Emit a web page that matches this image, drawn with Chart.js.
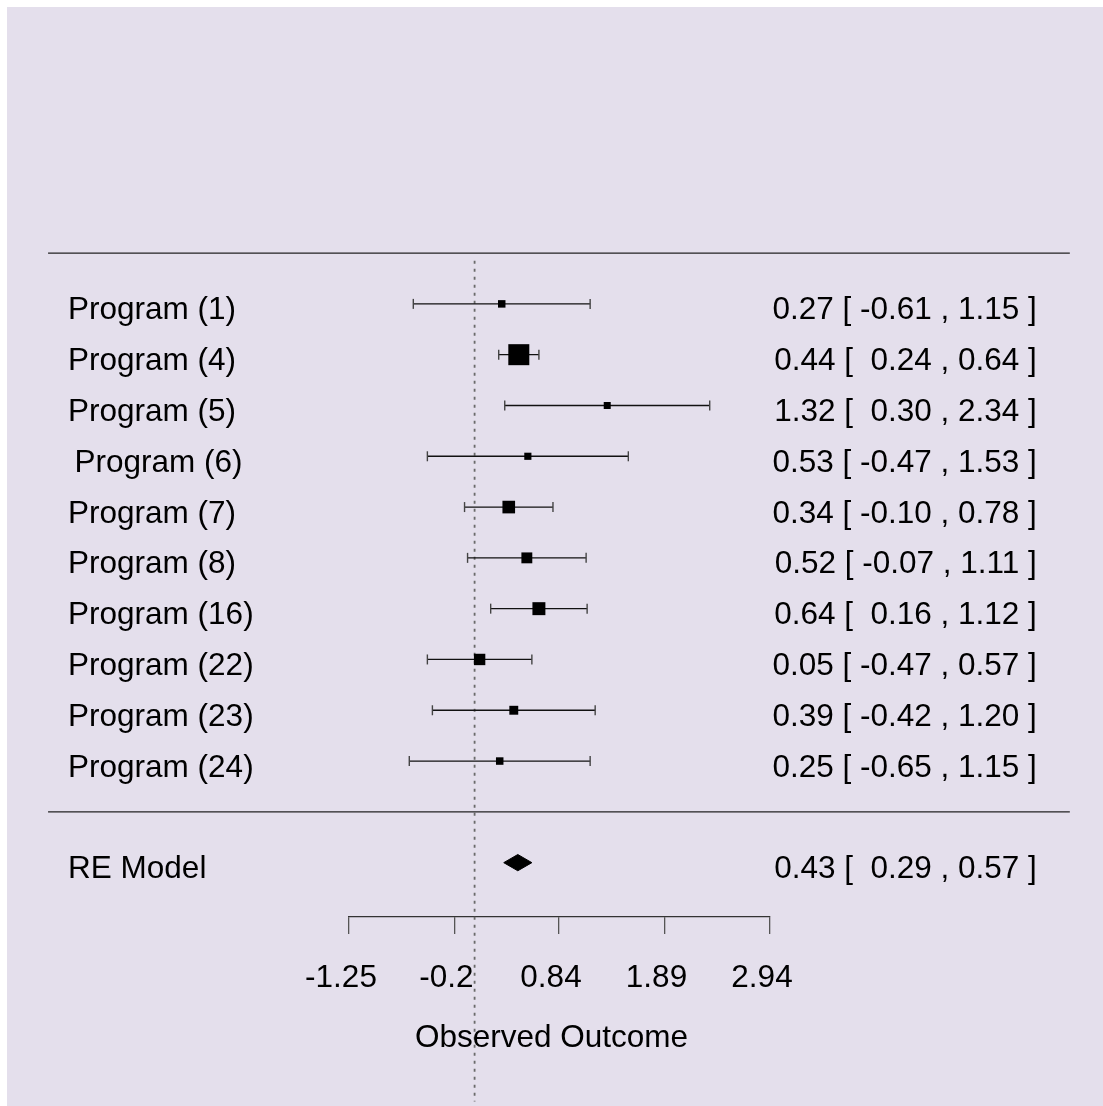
<!DOCTYPE html>
<html>
<head>
<meta charset="utf-8">
<script src="https://cdn.jsdelivr.net/npm/chart.js@4.4.1/dist/chart.umd.min.js"></script>
<style>
  html, body { margin: 0; padding: 0; background: #e4dfec; overflow: hidden; }
  canvas { display: block; }
</style>
</head>
<body>
<canvas id="forestChart" width="1103" height="1106"></canvas>
<script>
// forest plot data
const studies   = ['Program (1)', 'Program (4)', 'Program (5)', '\u2009Program (6)', 'Program (7)',
                   'Program (8)', 'Program (16)', 'Program (22)', 'Program (23)', 'Program (24)'];
const estimates = [0.27, 0.44, 1.32, 0.53, 0.34, 0.52, 0.64, 0.05, 0.39, 0.25];
const ciLower   = [-0.61, 0.24, 0.30, -0.47, -0.10, -0.07, 0.16, -0.47, -0.42, -0.65];
const ciUpper   = [1.15, 0.64, 2.34, 1.53, 0.78, 1.11, 1.12, 0.57, 1.20, 1.15];
const weights   = [5.2, 21.5, 4.6, 4.8, 11.4, 9.3, 11.8, 9.9, 6.9, 5.2];

const reLabel = 'RE Model';
const reEstimate = 0.43;
const reLower = 0.29;
const reUpper = 0.57;

const tickValues = [-1.25, -0.2, 0.84, 1.89, 2.94];
const tickLabels = ['-1.25', '-0.2', '0.84', '1.89', '2.94'];
const axisTitle = 'Observed Outcome';

// plot limits
const xlim = [-4.245, 5.924];
const k = studies.length;
const rows = studies.map((s, i) => k - i);

const FONT = "'Liberation Sans', Arial, sans-serif";
const FONT_SIZE = 31.5;

const fmt = v => v.toFixed(2);
const fmtLow = v => (v < 0 ? '' : ' ') + fmt(v);
const annot = (est, lo, hi) => `${fmt(est)} [ ${fmtLow(lo)} , ${fmt(hi)} ]`;

// square side grows linearly with weight (0.5x .. 1.5x of base size)
const wMin = Math.min(...weights), wMax = Math.max(...weights);
const boxSide = weights.map(w => 7 + 14 * (w - wMin) / (wMax - wMin));

Chart.defaults.font.family = FONT;
Chart.defaults.color = '#000';

const whiskerSets = rows.map((r, i) => ({
    data: [{x: ciLower[i], y: r}, {x: ciUpper[i], y: r}],
    showLine: true,
    borderColor: '#111',
    borderWidth: 1.3,
    pointStyle: 'line',
    pointRotation: 90,
    pointRadius: 5,
    pointBorderColor: '#444',
    pointBorderWidth: 1.4,
    clip: false,
    order: 3
}));

const dH = 0.16;
const forestText = {
    id: 'forestText',
    beforeDraw(chart) {
        const {ctx, width, height} = chart;
        ctx.save();
        ctx.fillStyle = '#ffffff';
        ctx.fillRect(0, 0, width, height);
        ctx.fillStyle = '#e4dfec';
        ctx.fillRect(7, 7, width - 7, height - 7);
        ctx.restore();
    },
    afterDraw(chart) {
        const {ctx, scales: {x, y}} = chart;
        const left = x.getPixelForValue(xlim[0]) + 20;
        const right = x.getPixelForValue(xlim[1]) - 33;
        ctx.save();
        ctx.fillStyle = '#000';
        ctx.font = `${FONT_SIZE}px ${FONT}`;
        ctx.textBaseline = 'alphabetic';
        rows.forEach((r, i) => {
            const py = y.getPixelForValue(r) + 15.5;
            ctx.textAlign = 'left';
            ctx.fillText(studies[i], left, py);
            ctx.textAlign = 'right';
            ctx.fillText(annot(estimates[i], ciLower[i], ciUpper[i]), right, py);
        });
        const ry = y.getPixelForValue(-1) + 15.5;
        ctx.textAlign = 'left';
        ctx.fillText(reLabel, left, ry);
        ctx.textAlign = 'right';
        ctx.fillText(annot(reEstimate, reLower, reUpper), right, ry);
        ctx.textAlign = 'center';
        ctx.fillText(axisTitle, (x.left + x.right) / 2 - 8, 1047);
        ctx.restore();
    }
};

new Chart(document.getElementById('forestChart'), {
    type: 'scatter',
    data: {
        datasets: [
            {
                // reference line at 0
                data: [{x: 0, y: 10.85}, {x: 0, y: -5.7}],
                showLine: true,
                borderColor: '#6a6a6a',
                borderWidth: 1.8,
                borderDash: [3, 5],
                pointRadius: 0,
                clip: false,
                order: 5
            },
            {
                data: [{x: xlim[0], y: k + 1}, {x: xlim[1], y: k + 1}],
                showLine: true,
                borderColor: '#222',
                borderWidth: 1.3,
                pointRadius: 0,
                clip: false,
                order: 4
            },
            {
                data: [{x: xlim[0], y: 0}, {x: xlim[1], y: 0}],
                showLine: true,
                borderColor: '#222',
                borderWidth: 1.3,
                pointRadius: 0,
                clip: false,
                order: 4
            },
            ...whiskerSets,
            {
                data: rows.map((r, i) => ({x: estimates[i], y: r})),
                pointStyle: 'rect',
                pointRadius: boxSide.map(s => s / Math.SQRT2),
                backgroundColor: '#000',
                borderWidth: 0,
                clip: false,
                order: 1
            },
            {
                // RE diamond
                data: [
                    {x: reLower, y: -1}, {x: reEstimate, y: -1 + dH},
                    {x: reUpper, y: -1}, {x: reEstimate, y: -1 - dH},
                    {x: reLower, y: -1}
                ],
                showLine: true,
                fill: 'shape',
                backgroundColor: '#000',
                borderColor: '#000',
                borderWidth: 1,
                pointRadius: 0,
                tension: 0,
                clip: false,
                order: 1
            }
        ]
    },
    options: {
        responsive: false,
        animation: false,
        events: [],
        layout: { padding: { left: 349, right: 333, top: 7, bottom: 0 } },
        plugins: {
            legend: { display: false },
            tooltip: { enabled: false }
        },
        scales: {
            x: {
                type: 'linear',
                min: -1.25,
                max: 2.94,
                afterBuildTicks: scale => { scale.ticks = tickValues.map(v => ({value: v})); },
                afterFit: scale => { scale.height = 189; },
                grid: { drawOnChartArea: false, drawTicks: true, tickLength: 17, color: '#555', lineWidth: 1.3 },
                border: { display: true, color: '#333', width: 1.3 },
                ticks: {
                    callback: (v, i) => tickLabels[i],
                    font: { size: FONT_SIZE },
                    color: '#000',
                    padding: 25,
                    labelOffset: -8,
                    maxRotation: 0,
                    autoSkip: false
                }
            },
            y: {
                type: 'linear',
                display: false,
                min: -2.07,
                max: 15.69
            }
        }
    },
    plugins: [forestText]
});
</script>
</body>
</html>
